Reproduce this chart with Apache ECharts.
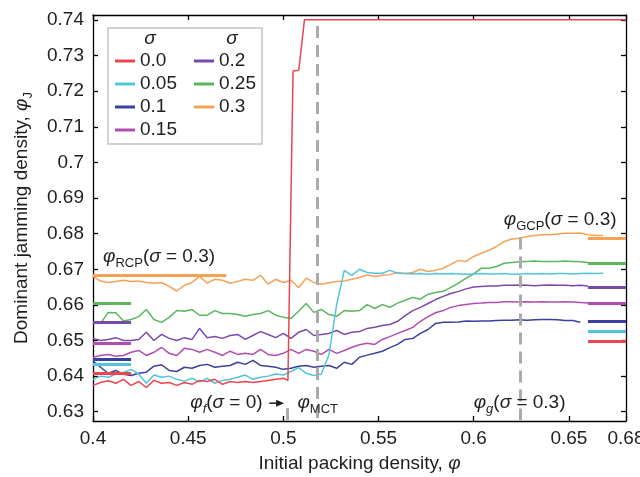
<!DOCTYPE html>
<html><head><meta charset="utf-8">
<script src="https://cdn.jsdelivr.net/npm/echarts@6/dist/echarts.min.js"></script>
<style>html,body{margin:0;padding:0;background:#fff}#main{width:640px;height:477px}</style>
</head><body><div id="main"></div>
<script>
const FONT = "'Liberation Sans', Arial, Helvetica, sans-serif";
const TXT = '#1e1e1e';

// legend / series names (sigma) and colours
const sigmaNames = ['0.0', '0.05', '0.1', '0.15', '0.2', '0.25', '0.3'];
const colors = ['#e9464f', '#52c5da', '#3b409f', '#b24db0', '#7a4aab', '#5bb75c', '#f5a257'];

// axis ticks
const xTicks = [0.4, 0.45, 0.5, 0.55, 0.6, 0.65, 0.68];
const yTicks = [0.63, 0.64, 0.65, 0.66, 0.67, 0.68, 0.69, 0.70, 0.71, 0.72, 0.73, 0.74];

// initial packing density grid
const phi = [0.400,0.404,0.408,0.412,0.416,0.420,0.424,0.428,0.432,0.436,0.440,0.444,0.448,0.452,0.456,0.460,0.464,0.468,0.472,0.476,0.480,0.484,0.488,0.492,0.496,0.500,0.504,0.508,0.512,0.516,0.520,0.524,0.528,0.532,0.536,0.540,0.544,0.548,0.552,0.556,0.560,0.564,0.568,0.572,0.576,0.580,0.584,0.588,0.592,0.596,0.600,0.604,0.608,0.612,0.616,0.620,0.624,0.628,0.632,0.636,0.640,0.644,0.648,0.652,0.656,0.660,0.664,0.668,0.672,0.676,0.680];

// sigma = 0.0 (own x values because of the jump)
const phiRed = [0.400,0.404,0.408,0.412,0.416,0.420,0.424,0.428,0.432,0.436,0.440,0.444,0.448,0.452,0.456,0.460,0.464,0.468,0.472,0.476,0.480,0.484,0.488,0.492,0.496,0.500,0.5024,0.5051,0.5081,0.5111,0.680];
const jamS000 = [0.6374,0.6382,0.6387,0.6380,0.6391,0.6374,0.6385,0.6368,0.6388,0.6380,0.6382,0.6374,0.6382,0.6377,0.6388,0.6385,0.6391,0.6377,0.6385,0.6382,0.6385,0.6382,0.6385,0.6388,0.6391,0.6394,0.6388,0.7257,0.7259,0.7401,0.7401];

const jamS005 = [0.6391,0.6400,0.6397,0.6406,0.6410,0.6419,0.6406,0.6380,0.6403,0.6397,0.6400,
  0.6391,0.6386,0.6394,0.6383,0.6394,0.6380,0.6388,0.6391,0.6397,0.6403,
  0.6391,0.6397,0.6400,0.6406,0.6403,0.6413,0.6424,0.6408,0.6402,0.6406,
  0.6461,0.6601,0.6697,0.6683,0.6700,0.6691,0.6689,0.6689,0.6697,0.6689,
  0.6688,0.6687,0.6688,0.6686,0.6688,0.6687,0.6688,0.6687,0.6686,0.6687,
  0.6688,0.6687,0.6687,0.6688,0.6686,0.6687,0.6688,0.6687,0.6688,0.6687,
  0.6688,0.6688,0.6687,0.6688,0.6689,0.6688,0.6689,null,null,null];

const jamS010 = [0.6442,0.6425,0.6408,0.6416,0.6405,0.6402,0.6408,0.6411,0.6428,0.6432,0.6416,
  0.6413,0.6425,0.6422,0.6430,0.6433,0.6425,0.6428,0.6430,0.6439,0.6433,
  0.6444,0.6430,0.6428,0.6425,0.6419,0.6422,0.6428,0.6430,0.6425,0.6428,
  0.6430,0.6422,0.6439,0.6433,0.6453,0.6459,0.6464,0.6470,0.6480,0.6489,
  0.6503,0.6506,0.6520,0.6531,0.6548,0.6551,0.6551,0.6552,0.6555,0.6554,
  0.6555,0.6555,0.6556,0.6557,0.6557,0.6558,0.6557,0.6558,0.6559,0.6559,
  0.6558,0.6556,0.6556,0.6551,null,null,null,null,null,null];

const jamS015 = [0.6453,0.6458,0.6461,0.6456,0.6458,0.6467,0.6472,0.6458,0.6467,0.6481,0.6464,
  0.6458,0.6478,0.6475,0.6467,0.6475,0.6467,0.6458,0.6470,0.6461,0.6464,
  0.6461,0.6475,0.6461,0.6458,0.6464,0.6475,0.6464,0.6475,0.6470,0.6461,
  0.6475,0.6464,0.6472,0.6481,0.6488,0.6492,0.6489,0.6503,0.6511,0.6520,
  0.6528,0.6537,0.6554,0.6567,0.6578,0.6584,0.6593,0.6598,0.6601,0.6604,
  0.6605,0.6607,0.6607,0.6609,0.6609,0.6608,0.6609,0.6608,0.6609,0.6608,
  0.6608,0.6609,0.6608,0.6607,0.6605,null,null,null,null,null];

const jamS020 = [0.6506,0.6500,0.6503,0.6508,0.6500,0.6500,0.6503,0.6523,0.6500,0.6517,0.6506,
  0.6500,0.6508,0.6503,0.6534,0.6508,0.6511,0.6506,0.6514,0.6517,0.6503,
  0.6514,0.6525,0.6517,0.6508,0.6520,0.6506,0.6523,0.6531,0.6514,0.6517,
  0.6520,0.6528,0.6517,0.6523,0.6525,0.6534,0.6537,0.6542,0.6545,0.6554,
  0.6570,0.6584,0.6593,0.6604,0.6615,0.6624,0.6632,0.6638,0.6645,0.6650,
  0.6652,0.6653,0.6653,0.6655,0.6655,0.6656,0.6655,0.6654,0.6655,0.6656,
  0.6655,0.6655,0.6654,0.6655,0.6653,null,null,null,null,null];

const jamS025 = [null,0.6548,0.6579,0.6578,0.6555,0.6559,0.6567,0.6587,0.6559,0.6551,0.6565,
  0.6584,0.6582,0.6587,0.6571,0.6571,0.6584,0.6576,0.6576,0.6573,0.6568,
  0.6573,0.6576,0.6584,0.6571,0.6565,0.6562,0.6582,0.6604,0.6579,0.6587,
  0.6573,0.6568,0.6584,0.6582,0.6584,0.6601,0.6590,0.6601,0.6593,0.6605,
  0.6613,0.6621,0.6616,0.6630,0.6635,0.6638,0.6649,0.6661,0.6675,0.6687,
  0.6703,0.6703,0.6708,0.6717,0.6719,0.6721,0.6722,0.6723,0.6722,0.6722,
  0.6722,0.6723,0.6722,0.6721,0.6719,0.6718,0.6717,0.6717,null,null];

const jamS030 = [0.6680,0.6667,0.6663,0.6666,0.6669,0.6666,0.6667,0.6663,0.6661,0.6663,0.6652,
  0.6639,0.6655,0.6663,0.6680,0.6661,0.6672,0.6669,0.6661,0.6666,0.6672,
  0.6669,0.6683,0.6658,0.6672,0.6663,0.6669,0.6649,0.6675,0.6663,0.6658,
  0.6662,0.6666,0.6667,0.6672,0.6677,0.6684,0.6680,0.6683,0.6685,0.6691,
  0.6688,0.6691,0.6700,0.6694,0.6697,0.6703,0.6714,0.6725,0.6722,0.6736,
  0.6745,0.6753,0.6764,0.6778,0.6785,0.6787,0.6792,0.6795,0.6797,0.6797,
  0.6799,0.6801,0.6801,0.6802,0.6797,0.6795,0.6795,null,null,null];

// reference levels (short thick bars): left (RCP) and right (GCP)
const rcpLevels = [0.6407, 0.6432, 0.6447, 0.6492, 0.6552, 0.6606, 0.6683];
const rcpEnds   = [0.42, 0.42, 0.42, 0.42, 0.42, 0.42, 0.47];
const gcpLevels = [0.6499, 0.6525, 0.6553, 0.6604, 0.6650, 0.6718, 0.6787];
const gcpStart = 0.66;

// characteristic densities (dashed lines)
const phiF = 0.5023, phiMCT = 0.5176, phiG = 0.6247;

const X_MIN = 0.4, X_MAX = 0.68, Y_MIN = 0.6274, Y_MAX = 0.7414;

function pairs(xs, ys) {
  const out = [];
  for (let i = 0; i < ys.length; i++) if (ys[i] != null) out.push([xs[i], ys[i]]);
  return out;
}

const seriesVals = [
  [phiRed, jamS000], [phi, jamS005], [phi, jamS010], [phi, jamS015],
  [phi, jamS020], [phi, jamS025], [phi, jamS030]
];

const dashStyle = { color: '#ababab', width: 3, type: [12, 7] };

const series = [];
const order = [6, 5, 4, 3, 2, 1, 0];
order.forEach(k => {
  const ml = [
    [{ coord: [X_MIN, rcpLevels[k]] }, { coord: [rcpEnds[k], rcpLevels[k]] }],
    [{ coord: [gcpStart, gcpLevels[k]] }, { coord: [X_MAX, gcpLevels[k]] }]
  ];
  if (k === 0) {
    ml.push([{ coord: [phiMCT, 0.7383], lineStyle: dashStyle }, { coord: [phiMCT, Y_MIN] }]);
    ml.push([{ coord: [phiG, 0.6789], lineStyle: dashStyle }, { coord: [phiG, Y_MIN] }]);
    ml.push([{ coord: [phiF, 0.6310], lineStyle: dashStyle }, { coord: [phiF, Y_MIN] }]);
  }
  series.push({
    name: sigmaNames[k],
    type: 'line',
    data: pairs(seriesVals[k][0], seriesVals[k][1]),
    showSymbol: false,
    symbol: 'none',
    color: colors[k],
    lineStyle: { width: 1.5, color: colors[k] },
    emphasis: { disabled: true },
    animation: false,
    markLine: {
      silent: true, symbol: 'none', animation: false,
      label: { show: false },
      emphasis: { disabled: true },
      lineStyle: { color: colors[k], width: 3, type: 'solid' },
      data: ml
    }
  });
});

const axisLineStyle = { lineStyle: { color: '#000', width: 1.3 } };
const richBase = {
  n: { fontSize: 19, lineHeight: 26, fontFamily: FONT, color: TXT },
  i: { fontSize: 19, lineHeight: 26, fontStyle: 'italic', fontFamily: FONT, color: TXT },
  s: { fontSize: 13, lineHeight: 13, verticalAlign: 'bottom', fontFamily: FONT, color: TXT },
  si: { fontSize: 13, lineHeight: 13, fontStyle: 'italic', verticalAlign: 'bottom', fontFamily: FONT, color: TXT }
};
const fmt = v => String(Number(v.toFixed(2)));

const legendCommon = {
  orient: 'vertical', top: 49.5, itemWidth: 20, itemHeight: 3, itemGap: 0,
  icon: 'rect', padding: 0, selectedMode: false,
  textStyle: { fontSize: 19, lineHeight: 23, fontFamily: FONT, color: TXT }
};

const option = {
  backgroundColor: '#fff',
  animation: false,
  grid: { left: 93, right: 14, top: 15, bottom: 56, containLabel: false, outerBoundsMode: 'none' },
  legend: [
    Object.assign({ data: sigmaNames.slice(0, 4), left: 115 }, legendCommon),
    Object.assign({ data: sigmaNames.slice(4), left: 194 }, legendCommon)
  ],
  xAxis: [{
    type: 'value', min: X_MIN, max: X_MAX, position: 'bottom',
    axisLine: axisLineStyle,
    axisTick: { inside: true, length: 5, customValues: xTicks, lineStyle: { color: '#000', width: 1.3 } },
    axisLabel: { customValues: xTicks, formatter: fmt, fontSize: 19, fontFamily: FONT, color: TXT, margin: 8 },
    splitLine: { show: false },
    name: '{n|Initial packing density, }{i|φ}',
    nameLocation: 'middle', nameGap: 30, nameMoveOverlap: false,
    nameTextStyle: { rich: richBase }
  }, {
    type: 'value', min: X_MIN, max: X_MAX, position: 'top',
    axisLine: axisLineStyle,
    axisTick: { inside: true, length: 5, customValues: xTicks, lineStyle: { color: '#000', width: 1.3 } },
    axisLabel: { show: false }, splitLine: { show: false }
  }],
  yAxis: [{
    type: 'value', min: Y_MIN, max: Y_MAX, position: 'left',
    axisLine: axisLineStyle,
    axisTick: { inside: true, length: 5, customValues: yTicks, lineStyle: { color: '#000', width: 1.3 } },
    axisLabel: { customValues: yTicks, formatter: fmt, fontSize: 19, fontFamily: FONT, color: TXT, margin: 9 },
    splitLine: { show: false },
    name: '{n|Dominant jamming density, }{i|φ}{s|J}',
    nameLocation: 'middle', nameGap: 58, nameMoveOverlap: false,
    nameTextStyle: { rich: richBase }
  }, {
    type: 'value', min: Y_MIN, max: Y_MAX, position: 'right',
    axisLine: axisLineStyle,
    axisTick: { inside: true, length: 5, customValues: yTicks, lineStyle: { color: '#000', width: 1.3 } },
    axisLabel: { show: false }, splitLine: { show: false }
  }],
  series: series
};

const chart = echarts.init(document.getElementById('main'));
chart.setOption(option);

const P = (x, y) => chart.convertToPixel({ xAxisIndex: 0, yAxisIndex: 0 }, [x, y]);
function label(x, y, text) {
  const p = P(x, y);
  return {
    type: 'text', x: p[0], y: p[1], z: 20, silent: true,
    style: { text: text, rich: richBase, align: 'left', verticalAlign: 'middle', fontSize: 19, fontFamily: FONT, fill: TXT }
  };
}
const a0 = P(0.4926, 0.6324), a1 = P(0.5004, 0.6324);
chart.setOption({
  graphic: [
    { type: 'rect', z: 3, silent: true, shape: { x: 108, y: 28, width: 154, height: 116 },
      style: { fill: '#fff', stroke: '#c4c4c4', lineWidth: 1.5 } },
    { type: 'text', z: 5, silent: true, x: 150, y: 39, style: { text: 'σ', fontSize: 19, fontStyle: 'italic', fontFamily: FONT, fill: TXT, align: 'center', verticalAlign: 'middle' } },
    { type: 'text', z: 5, silent: true, x: 232, y: 39, style: { text: 'σ', fontSize: 19, fontStyle: 'italic', fontFamily: FONT, fill: TXT, align: 'center', verticalAlign: 'middle' } },
    label(0.4053, 0.6735, '{i|φ}{s|RCP}{n|(}{i|σ}{n| = 0.3)}'),
    label(0.6158, 0.6840, '{i|φ}{s|GCP}{n|(}{i|σ}{n| = 0.3)}'),
    label(0.4511, 0.6324, '{i|φ}{si|f}{n|(}{i|σ}{n| = 0)}'),
    label(0.5074, 0.6324, '{i|φ}{s|MCT}'),
    label(0.6000, 0.6324, '{i|φ}{si|g}{n|(}{i|σ}{n| = 0.3)}'),
    { type: 'line', z: 20, silent: true, shape: { x1: a0[0], y1: a0[1], x2: a1[0] - 6, y2: a1[1] },
      style: { stroke: TXT, lineWidth: 1.5 } },
    { type: 'polygon', z: 20, silent: true,
      shape: { points: [[a1[0] - 8, a1[1] - 3.5], [a1[0], a1[1]], [a1[0] - 8, a1[1] + 3.5]] },
      style: { fill: TXT } }
  ]
});
</script></body></html>
